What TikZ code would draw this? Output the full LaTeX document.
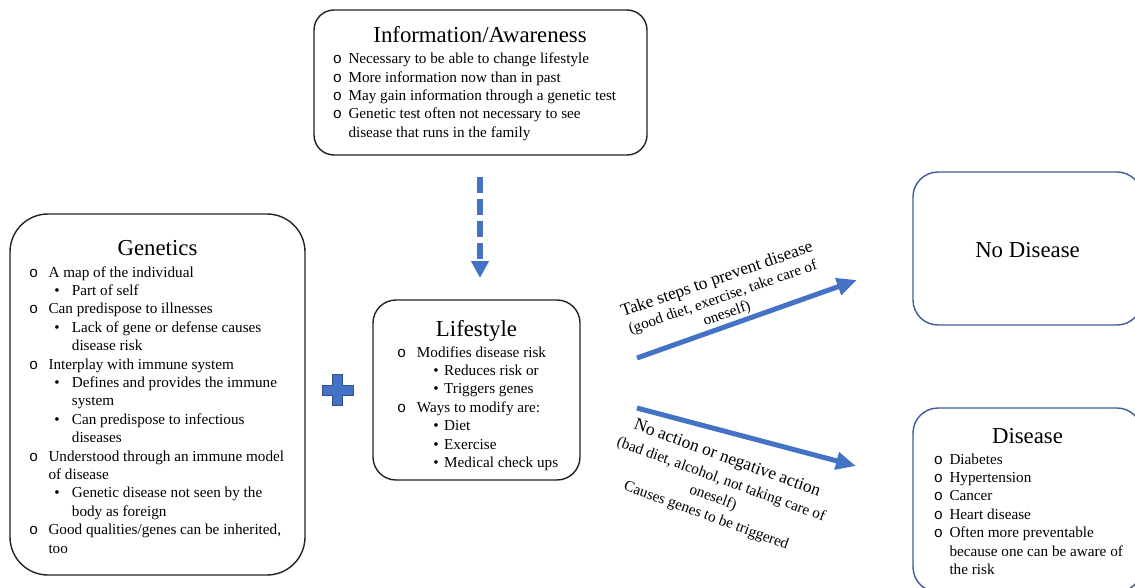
\documentclass[tikz,border=0pt]{standalone}
\usepackage{fontspec}
\setmainfont{Liberation Serif}
\newfontfamily\monof{Liberation Mono}
\usetikzlibrary{arrows.meta}
\definecolor{accent}{HTML}{4472C4}
\definecolor{boxblue}{HTML}{3F5B95}
\definecolor{boxblack}{HTML}{222222}
\newcommand\oitem[5]{%
  \node[bul] (#1o) at (#2,#4) {\monof o};
  \node[txt] (#1) at (#3,#4) {#5};}
\newcommand\ditem[5]{%
  \node[bul] (#1o) at (#2,#4) {\textbullet};
  \node[txt] (#1) at (#3,#4) {#5};}
\newcommand\citem[4]{%
  \node[txt] (#1) at (#2,#3) {#4};}
\begin{document}
\begin{tikzpicture}[x=1pt,y=-1pt,
  blackbox/.style={draw=boxblack, line width=1.4pt, inner sep=0pt},
  bluebox/.style={draw=boxblue, line width=1.4pt, inner sep=0pt},
  ttl/.style={font=\fontsize{22.8}{27}\selectfont, anchor=base, inner sep=0pt},
  txt/.style={font=\fontsize{15.2}{18.4}\selectfont, anchor=base west, inner sep=0pt},
  bul/.style={font=\fontsize{15.2}{18.4}\selectfont, anchor=base, inner sep=0pt},
  lblbig/.style={font=\fontsize{17.4}{20}\selectfont, inner sep=0pt},
  lblsm/.style={font=\fontsize{15.2}{18}\selectfont, inner sep=0pt},
  bluearrow/.style={draw=accent, line width=5pt}
]
\useasboundingbox (0,0) rectangle (1135,588);
\clip (0,0) rectangle (1135,588);
\fill[white] (0,0) rectangle (1135,588);

% ---------- Information / Awareness ----------
\node[blackbox, rounded corners=20pt, minimum width=333pt, minimum height=145pt] (info) at (480.5,82.5) {};
\node[ttl] (infot) at (480,43) {Information/Awareness};
\oitem{i1}{337.5}{348.3}{64}{Necessary to be able to change lifestyle}
\oitem{i2}{337.5}{348.3}{82.3}{More information now than in past}
\oitem{i3}{337.5}{348.3}{100.6}{May gain information through a genetic test}
\oitem{i4}{337.5}{348.3}{119}{Genetic test often not necessary to see}
\citem{i5}{348.3}{137.3}{disease that runs in the family}

% ---------- Genetics ----------
\node[blackbox, rounded corners=38pt, minimum width=295pt, minimum height=361pt] (gen) at (157.5,394.5) {};
\node[ttl] (gent) at (157.5,255) {Genetics};
\oitem{g1}{33.7}{48.3}{277}{A map of the individual}
\ditem{g2}{57}{71.7}{295.4}{Part of self}
\oitem{g3}{33.7}{48.3}{313.8}{Can predispose to illnesses}
\ditem{g4}{57}{71.7}{332.2}{Lack of gene or defense causes}
\citem{g5}{71.7}{350.6}{disease risk}
\oitem{g6}{33.7}{48.3}{369}{Interplay with immune system}
\ditem{g7}{57}{71.7}{387.4}{Defines and provides the immune}
\citem{g8}{71.7}{405.8}{system}
\ditem{g9}{57}{71.7}{424.2}{Can predispose to infectious}
\citem{g10}{71.7}{442.6}{diseases}
\oitem{g11}{33.7}{48.3}{461}{Understood through an immune model}
\citem{g12}{48.3}{479.4}{of disease}
\ditem{g13}{57}{71.7}{497.8}{Genetic disease not seen by the}
\citem{g14}{71.7}{516.2}{body as foreign}
\oitem{g15}{33.7}{48.3}{534.6}{Good qualities/genes can be inherited,}
\citem{g16}{48.3}{553}{too}

% ---------- Plus ----------
\filldraw[fill=accent, draw=accent!70!black, line width=0.8pt]
  (332.5,374.5) -- ++(10,0) -- ++(0,10.5) -- ++(10.5,0) -- ++(0,10) -- ++(-10.5,0)
  -- ++(0,10.5) -- ++(-10,0) -- ++(0,-10.5) -- ++(-10.5,0) -- ++(0,-10) -- ++(10.5,0) -- cycle;

% ---------- Lifestyle ----------
\node[blackbox, rounded corners=23pt, minimum width=207pt, minimum height=180pt] (life) at (476.5,390) {};
\node[ttl] (lifet) at (476.5,336) {Lifestyle};
\oitem{l1}{401.7}{416.7}{357}{Modifies disease risk}
\ditem{l2}{436}{444}{375.4}{Reduces risk or}
\ditem{l3}{436}{444}{393.8}{Triggers genes}
\oitem{l4}{401.7}{416.7}{412.2}{Ways to modify are:}
\ditem{l5}{436}{444}{430.6}{Diet}
\ditem{l6}{436}{444}{449}{Exercise}
\ditem{l7}{436}{444}{467.4}{Medical check ups}

% ---------- No Disease ----------
\node[bluebox, rounded corners=25pt, minimum width=229pt, minimum height=153pt] (nod) at (1027.5,248.5) {};
\node[ttl] (nodt) at (1027.5,257.5) {No Disease};

% ---------- Disease ----------
\node[bluebox, rounded corners=25pt, minimum width=229pt, minimum height=184pt] (dis) at (1027.5,500) {};
\node[ttl] (dist) at (1027.5,443) {Disease};
\oitem{d1}{938.3}{949.3}{464}{Diabetes}
\oitem{d2}{938.3}{949.3}{482.4}{Hypertension}
\oitem{d3}{938.3}{949.3}{500.8}{Cancer}
\oitem{d4}{938.3}{949.3}{519.2}{Heart disease}
\oitem{d5}{938.3}{949.3}{537.6}{Often more preventable}
\citem{d6}{949.3}{556}{because one can be aware of}
\citem{d7}{949.3}{574.4}{the risk}

% ---------- Arrows ----------
\coordinate (da) at (480,177);
\coordinate (db) at (480,278);
\draw[draw=accent, line width=6.5pt, dash pattern=on 16pt off 6pt,
  -{Triangle[length=17pt,width=17pt]}] (da) -- (db);

\coordinate (ua) at (637,358);
\coordinate (ub) at (857,280);
\draw[bluearrow, -{Triangle[length=20pt,width=17pt]}] (ua) -- (ub);

\coordinate (la) at (637,408);
\coordinate (lb) at (856,466);
\draw[bluearrow, -{Triangle[length=20pt,width=17pt]}] (la) -- (lb);

% ---------- Arrow labels ----------
\node[lblbig, rotate=19] (up1) at (717,280) {Take steps to prevent disease};
\node[lblsm, rotate=19] (up2) at (723,298) {(good diet, exercise, take care of};
\node[lblsm, rotate=19] (up3) at (727,314) {oneself)};

\node[lblbig, rotate=-20] (lo1) at (727,459) {No action or negative action};
\node[lblsm, rotate=-20] (lo2) at (721,480) {(bad diet, alcohol, not taking care of};
\node[lblsm, rotate=-20] (lo3) at (713,498) {oneself)};
\node[lblsm, rotate=-20] (lo4) at (706,516) {Causes genes to be triggered};
\end{tikzpicture}
\end{document}
